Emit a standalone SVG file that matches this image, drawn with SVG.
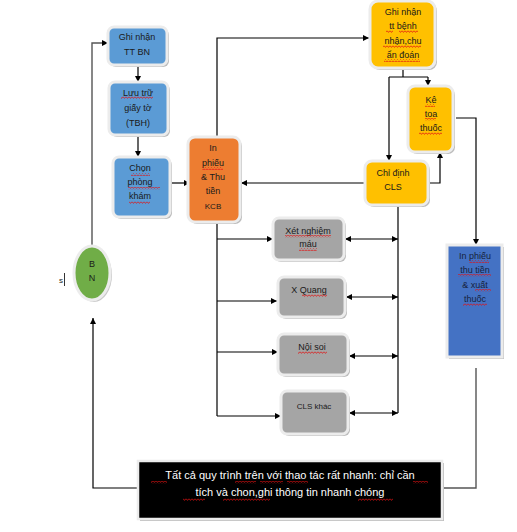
<svg xmlns="http://www.w3.org/2000/svg" width="517" height="532" viewBox="0 0 517 532">
  <style>
    .lbl { font-family: "Liberation Sans", Arial, sans-serif; font-size: 9px; fill: #1a1a1a; text-anchor: middle; }
    .sm { font-size: 8px; }
    .note { font-family: "Liberation Sans", Arial, sans-serif; font-size: 11px; fill: #ffffff; text-anchor: middle; }
    .frame { stroke: #ececec; stroke-width: 3; }
    .shadow { fill: #bdbdbd; }
    .blue { fill: #5b9bd5; }
    .orange { fill: #ed7d31; }
    .yellow { fill: #ffc000; }
    .gray { fill: #a5a5a5; }
    .navy { fill: #4472c4; }
    .green { fill: #70ad47; }
    .wire { fill: none; stroke: #000; stroke-width: 1.2; }
    .wire-g { fill: none; stroke: #555; stroke-width: 1.4; }
    .squig { fill: url(#wave); }
  </style>
  <defs>
    <marker id="ah" viewBox="0 0 10 10" refX="10" refY="5" markerWidth="6" markerHeight="6" orient="auto-start-reverse" markerUnits="userSpaceOnUse">
      <path d="M0,0 L10,5 L0,10 z" fill="#000"/>
    </marker>
    <pattern id="wave" width="3" height="3" patternUnits="userSpaceOnUse">
      <path d="M0,0.6 L1.5,2.4 L3,0.6" fill="none" stroke="#e01010" stroke-width="0.8"/>
    </pattern>
  </defs>

  <rect width="517" height="532" fill="#ffffff"/>

  <!-- connectors -->
  <g id="connectors">
    <!-- left column -->
    <path class="wire" d="M138,65 V82" marker-end="url(#ah)"/>
    <path class="wire" d="M138,135 V157" marker-end="url(#ah)"/>
    <path class="wire" d="M171,183 H190" marker-end="url(#ah)"/>
    <path class="wire-g" d="M92,245 V43 H108" marker-end="url(#ah)"/>
    <!-- KCB to diagnosis -->
    <path class="wire" d="M217,137 V38 H369" marker-end="url(#ah)"/>
    <!-- diagnosis split -->
    <path class="wire" d="M403,68 V77"/>
    <path class="wire" d="M389,77 H428"/>
    <path class="wire" d="M389,77 V161" marker-end="url(#ah)"/>
    <path class="wire" d="M428,77 V86" marker-end="url(#ah)"/>
    <!-- CLS order to prescription -->
    <path class="wire" d="M428,183 H440 V152" marker-end="url(#ah)"/>
    <!-- CLS order back to KCB -->
    <path class="wire" d="M366,183 H241" marker-end="url(#ah)"/>
    <!-- prescription to billing -->
    <path class="wire" d="M456,118 H476 V245" marker-end="url(#ah)"/>
    <!-- KCB to lab branches -->
    <path class="wire" d="M217,222 V416"/>
    <path class="wire" d="M217,239 H273" marker-end="url(#ah)"/>
    <path class="wire" d="M217,301 H277" marker-end="url(#ah)"/>
    <path class="wire" d="M217,352 H278" marker-end="url(#ah)"/>
    <path class="wire" d="M217,416 H281" marker-end="url(#ah)"/>
    <!-- CLS order bus -->
    <path class="wire" d="M398,205 V413"/>
    <path class="wire" d="M345,239 H398" marker-start="url(#ah)" marker-end="url(#ah)"/>
    <path class="wire" d="M346,297 H398" marker-start="url(#ah)" marker-end="url(#ah)"/>
    <path class="wire" d="M349,356 H398" marker-start="url(#ah)" marker-end="url(#ah)"/>
    <path class="wire" d="M349,413 H398" marker-start="url(#ah)" marker-end="url(#ah)"/>
    <!-- bottom loop -->
    <path class="wire-g" d="M476,368 V488 H443"/>
    <path class="wire" d="M138,488 H93 V318" marker-end="url(#ah)"/>
  </g>

  <!-- nodes -->
  <g id="ghi-nhan-tt-bn">
    <rect class="shadow" x="110" y="29" width="59" height="38" rx="6"/>
    <rect class="blue frame" x="108" y="27" width="59" height="38" rx="6"/>
    <text class="lbl" x="137" y="40">Ghi nhận</text>
    <text class="lbl" x="137" y="55">TT BN</text>
  </g>

  <g id="luu-tru-giay-to">
    <rect class="shadow" x="111" y="84" width="59" height="53" rx="6"/>
    <rect class="blue frame" x="109" y="82" width="59" height="53" rx="6"/>
    <text class="lbl" x="138" y="96">Lưu trữ</text>
    <text class="lbl" x="138" y="111">giấy tờ</text>
    <text class="lbl" x="138" y="126">(TBH)</text>
    <rect class="squig" x="121" y="96" width="32" height="3"/>
  </g>

  <g id="chon-phong-kham">
    <rect class="shadow" x="115" y="159" width="57" height="60" rx="6"/>
    <rect class="blue frame" x="113" y="157" width="57" height="60" rx="6"/>
    <text class="lbl" x="140" y="171">Chọn</text>
    <text class="lbl" x="140" y="185">phòng</text>
    <text class="lbl" x="140" y="199">khám</text>
    <rect class="squig" x="131" y="173" width="19" height="3"/>
    <rect class="squig" x="128" y="187" width="32" height="3"/>
    <rect class="squig" x="129" y="201" width="21" height="3"/>
  </g>

  <g id="in-phieu-thu-tien-kcb">
    <rect class="shadow" x="190" y="139" width="52" height="85" rx="7"/>
    <rect class="orange frame" x="188" y="137" width="52" height="85" rx="7"/>
    <text class="lbl" x="213" y="151">In</text>
    <text class="lbl" x="213" y="166">phiếu</text>
    <text class="lbl" x="213" y="180">&amp; Thu</text>
    <text class="lbl" x="213" y="194">tiền</text>
    <text class="lbl sm" x="213" y="209">KCB</text>
    <rect class="squig" x="202" y="167" width="21" height="3"/>
  </g>

  <g id="ghi-nhan-chan-doan">
    <rect class="shadow" x="372" y="3" width="65" height="67" rx="8"/>
    <rect class="yellow frame" x="370" y="1" width="65" height="67" rx="8"/>
    <text class="lbl" x="403" y="15">Ghi nhận</text>
    <text class="lbl" x="403" y="29">tt bệnh</text>
    <text class="lbl" x="403" y="44">nhận,chu</text>
    <text class="lbl" x="403" y="58">ẩn đoán</text>
    <rect class="squig" x="386" y="30" width="7" height="3"/>
    <rect class="squig" x="399" y="30" width="19" height="3"/>
    <rect class="squig" x="383" y="45" width="38" height="3"/>
    <rect class="squig" x="384" y="59" width="36" height="3"/>
  </g>

  <g id="ke-toa-thuoc">
    <rect class="shadow" x="410" y="88" width="45" height="66" rx="7"/>
    <rect class="yellow frame" x="408" y="86" width="45" height="66" rx="7"/>
    <text class="lbl" x="431" y="103">Kê</text>
    <text class="lbl" x="431" y="117">toa</text>
    <text class="lbl" x="431" y="131">thuốc</text>
    <rect class="squig" x="425" y="104" width="10" height="3"/>
    <rect class="squig" x="425" y="118" width="11" height="3"/>
    <rect class="squig" x="419" y="132" width="23" height="3"/>
  </g>

  <g id="chi-dinh-cls">
    <rect class="shadow" x="367" y="163" width="63" height="44" rx="7"/>
    <rect class="yellow frame" x="365" y="161" width="63" height="44" rx="7"/>
    <text class="lbl" x="393" y="176">Chỉ định</text>
    <text class="lbl" x="393" y="190">CLS</text>
  </g>

  <g id="xet-nghiem-mau">
    <rect class="shadow" x="275" y="220" width="71" height="42" rx="6"/>
    <rect class="gray frame" x="273" y="218" width="71" height="42" rx="6"/>
    <text class="lbl" x="308" y="234">Xét nghiệm</text>
    <text class="lbl" x="308" y="247">máu</text>
    <rect class="squig" x="285" y="235" width="46" height="3"/>
    <rect class="squig" x="299" y="248" width="18" height="3"/>
  </g>

  <g id="x-quang">
    <rect class="shadow" x="280" y="279" width="67" height="40" rx="6"/>
    <rect class="gray frame" x="278" y="277" width="67" height="40" rx="6"/>
    <text class="lbl" x="309" y="293">X Quang</text>
    <rect class="squig" x="302" y="294" width="25" height="3"/>
  </g>

  <g id="noi-soi">
    <rect class="shadow" x="280" y="336" width="70" height="41" rx="6"/>
    <rect class="gray frame" x="278" y="334" width="70" height="41" rx="6"/>
    <text class="lbl" x="312" y="350">Nội soi</text>
    <rect class="squig" x="298" y="351" width="29" height="3"/>
  </g>

  <g id="cls-khac">
    <rect class="shadow" x="283" y="393" width="67" height="43" rx="6"/>
    <rect class="gray frame" x="281" y="391" width="67" height="43" rx="6"/>
    <text class="lbl sm" x="314" y="409">CLS khác</text>
  </g>

  <g id="in-phieu-xuat-thuoc">
    <rect class="shadow" x="449" y="247" width="55" height="112"/>
    <rect class="navy frame" x="447" y="245" width="55" height="112"/>
    <text class="lbl" x="475" y="259" style="fill:#16223d">In phiếu</text>
    <text class="lbl" x="475" y="273" style="fill:#16223d">thu tiền</text>
    <text class="lbl" x="475" y="288" style="fill:#16223d">&amp; xuất</text>
    <text class="lbl" x="475" y="302" style="fill:#16223d">thuốc</text>
    <rect class="squig" x="469" y="260" width="20" height="3"/>
    <rect class="squig" x="458" y="274" width="33" height="3"/>
    <rect class="squig" x="475" y="289" width="16" height="3"/>
    <rect class="squig" x="463" y="303" width="24" height="3"/>
  </g>

  <g id="benh-nhan">
    <ellipse cx="94" cy="275" rx="18" ry="27" fill="#c9c9c9"/>
    <ellipse class="green frame" cx="92" cy="273" rx="18" ry="27"/>
    <text class="lbl" x="92" y="267">B</text>
    <text class="lbl" x="92" y="281">N</text>
  </g>

  <g id="cursor-s">
    <text class="lbl" x="61" y="283" style="font-size:8px">s</text>
    <line x1="64.5" y1="273" x2="64.5" y2="286" stroke="#000" stroke-width="0.8"/>
  </g>

  <g id="ghi-chu">
    <rect x="140" y="463" width="304" height="58" fill="#bdbdbd"/>
    <rect x="138" y="461" width="304" height="58" fill="#000" stroke="#ececec" stroke-width="2.5"/>
    <text class="note" x="290" y="479">Tất cả quy trình trên với thao tác rất nhanh: chỉ cần</text>
    <text class="note" x="290" y="496">tích và chon,ghi thông tin nhanh chóng</text>
    <rect class="squig" x="151" y="481" width="16" height="3"/>
    <rect class="squig" x="235" y="481" width="21" height="3"/>
    <rect class="squig" x="260" y="481" width="23" height="3"/>
    <rect class="squig" x="287" y="481" width="21" height="3"/>
    <rect class="squig" x="413" y="481" width="15" height="3"/>
    <rect class="squig" x="183" y="498" width="22" height="3"/>
    <rect class="squig" x="223" y="498" width="47" height="3"/>
    <rect class="squig" x="358" y="498" width="35" height="3"/>
  </g>
</svg>
